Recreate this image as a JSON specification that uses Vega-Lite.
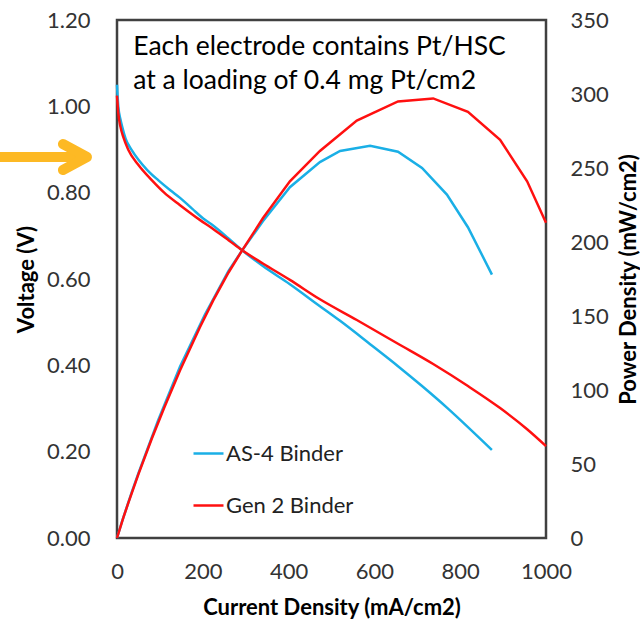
{
  "$schema": "https://vega.github.io/schema/vega-lite/v6.json",
  "width": 429,
  "height": 518,
  "autosize": {"type": "none"},
  "padding": {"left": 117, "top": 20, "right": 94, "bottom": 82},
  "background": "white",
  "config": {
    "view": {"stroke": "#404040", "strokeWidth": 2.5},
    "font": "Lato"
  },
  "datasets": {
    "volt": [
      {"current": 0, "voltage": 1.05, "series": "AS-4 Binder"},
      {"current": 3, "voltage": 1.0, "series": "AS-4 Binder"},
      {"current": 8, "voltage": 0.97, "series": "AS-4 Binder"},
      {"current": 12, "voltage": 0.953, "series": "AS-4 Binder"},
      {"current": 20, "voltage": 0.925, "series": "AS-4 Binder"},
      {"current": 34, "voltage": 0.899, "series": "AS-4 Binder"},
      {"current": 50, "voltage": 0.876, "series": "AS-4 Binder"},
      {"current": 70, "voltage": 0.853, "series": "AS-4 Binder"},
      {"current": 96, "voltage": 0.829, "series": "AS-4 Binder"},
      {"current": 125, "voltage": 0.805, "series": "AS-4 Binder"},
      {"current": 147, "voltage": 0.788, "series": "AS-4 Binder"},
      {"current": 175, "voltage": 0.763, "series": "AS-4 Binder"},
      {"current": 205, "voltage": 0.737, "series": "AS-4 Binder"},
      {"current": 224, "voltage": 0.724, "series": "AS-4 Binder"},
      {"current": 260, "voltage": 0.694, "series": "AS-4 Binder"},
      {"current": 291, "voltage": 0.667, "series": "AS-4 Binder"},
      {"current": 340, "voltage": 0.630, "series": "AS-4 Binder"},
      {"current": 403, "voltage": 0.588, "series": "AS-4 Binder"},
      {"current": 473, "voltage": 0.537, "series": "AS-4 Binder"},
      {"current": 520, "voltage": 0.503, "series": "AS-4 Binder"},
      {"current": 590, "voltage": 0.449, "series": "AS-4 Binder"},
      {"current": 655, "voltage": 0.398, "series": "AS-4 Binder"},
      {"current": 711, "voltage": 0.352, "series": "AS-4 Binder"},
      {"current": 769, "voltage": 0.302, "series": "AS-4 Binder"},
      {"current": 818, "voltage": 0.257, "series": "AS-4 Binder"},
      {"current": 874, "voltage": 0.204, "series": "AS-4 Binder"},
      {"current": 0, "voltage": 1.025, "series": "Gen 2 Binder"},
      {"current": 3, "voltage": 0.985, "series": "Gen 2 Binder"},
      {"current": 8, "voltage": 0.953, "series": "Gen 2 Binder"},
      {"current": 15, "voltage": 0.928, "series": "Gen 2 Binder"},
      {"current": 26, "voltage": 0.900, "series": "Gen 2 Binder"},
      {"current": 50, "voltage": 0.864, "series": "Gen 2 Binder"},
      {"current": 81, "voltage": 0.829, "series": "Gen 2 Binder"},
      {"current": 110, "voltage": 0.800, "series": "Gen 2 Binder"},
      {"current": 147, "voltage": 0.771, "series": "Gen 2 Binder"},
      {"current": 193, "voltage": 0.737, "series": "Gen 2 Binder"},
      {"current": 224, "voltage": 0.716, "series": "Gen 2 Binder"},
      {"current": 260, "voltage": 0.690, "series": "Gen 2 Binder"},
      {"current": 291, "voltage": 0.667, "series": "Gen 2 Binder"},
      {"current": 340, "voltage": 0.636, "series": "Gen 2 Binder"},
      {"current": 403, "voltage": 0.598, "series": "Gen 2 Binder"},
      {"current": 473, "voltage": 0.553, "series": "Gen 2 Binder"},
      {"current": 559, "voltage": 0.505, "series": "Gen 2 Binder"},
      {"current": 655, "voltage": 0.450, "series": "Gen 2 Binder"},
      {"current": 737, "voltage": 0.403, "series": "Gen 2 Binder"},
      {"current": 818, "voltage": 0.352, "series": "Gen 2 Binder"},
      {"current": 893, "voltage": 0.301, "series": "Gen 2 Binder"},
      {"current": 956, "voltage": 0.252, "series": "Gen 2 Binder"},
      {"current": 1000, "voltage": 0.213, "series": "Gen 2 Binder"}
    ],
    "power": [
      {"current": 0, "power": 0, "series": "AS-4 Binder"},
      {"current": 12, "power": 11.4, "series": "AS-4 Binder"},
      {"current": 34, "power": 30.6, "series": "AS-4 Binder"},
      {"current": 50, "power": 43.8, "series": "AS-4 Binder"},
      {"current": 96, "power": 79.6, "series": "AS-4 Binder"},
      {"current": 147, "power": 115.8, "series": "AS-4 Binder"},
      {"current": 205, "power": 151, "series": "AS-4 Binder"},
      {"current": 260, "power": 180.5, "series": "AS-4 Binder"},
      {"current": 291, "power": 194, "series": "AS-4 Binder"},
      {"current": 340, "power": 214, "series": "AS-4 Binder"},
      {"current": 403, "power": 237, "series": "AS-4 Binder"},
      {"current": 473, "power": 254, "series": "AS-4 Binder"},
      {"current": 520, "power": 261.5, "series": "AS-4 Binder"},
      {"current": 590, "power": 265, "series": "AS-4 Binder"},
      {"current": 655, "power": 261, "series": "AS-4 Binder"},
      {"current": 711, "power": 250, "series": "AS-4 Binder"},
      {"current": 769, "power": 232, "series": "AS-4 Binder"},
      {"current": 818, "power": 210, "series": "AS-4 Binder"},
      {"current": 874, "power": 178, "series": "AS-4 Binder"},
      {"current": 0, "power": 0, "series": "Gen 2 Binder"},
      {"current": 15, "power": 13.9, "series": "Gen 2 Binder"},
      {"current": 26, "power": 23.4, "series": "Gen 2 Binder"},
      {"current": 50, "power": 43.2, "series": "Gen 2 Binder"},
      {"current": 81, "power": 67.1, "series": "Gen 2 Binder"},
      {"current": 110, "power": 88, "series": "Gen 2 Binder"},
      {"current": 147, "power": 113.3, "series": "Gen 2 Binder"},
      {"current": 193, "power": 142.2, "series": "Gen 2 Binder"},
      {"current": 224, "power": 160.4, "series": "Gen 2 Binder"},
      {"current": 260, "power": 179.4, "series": "Gen 2 Binder"},
      {"current": 291, "power": 194, "series": "Gen 2 Binder"},
      {"current": 340, "power": 216, "series": "Gen 2 Binder"},
      {"current": 403, "power": 241, "series": "Gen 2 Binder"},
      {"current": 473, "power": 261.5, "series": "Gen 2 Binder"},
      {"current": 559, "power": 282, "series": "Gen 2 Binder"},
      {"current": 655, "power": 295, "series": "Gen 2 Binder"},
      {"current": 737, "power": 297, "series": "Gen 2 Binder"},
      {"current": 818, "power": 288, "series": "Gen 2 Binder"},
      {"current": 893, "power": 269, "series": "Gen 2 Binder"},
      {"current": 956, "power": 241, "series": "Gen 2 Binder"},
      {"current": 1000, "power": 213, "series": "Gen 2 Binder"}
    ],
    "note": [
      {"current": 38, "voltage": 1.119, "text": "Each electrode contains Pt/HSC"},
      {"current": 38, "voltage": 1.040, "text": "at a loading of 0.4 mg Pt/cm2"}
    ],
    "arrow": [
      {"current": -290, "voltage": 0.8826},
      {"current": -74, "voltage": 0.8826}
    ],
    "head": [
      {"current": -70, "voltage": 0.8826}
    ]
  },
  "layer": [
    {
      "layer": [
        {
          "data": {"name": "volt"},
          "mark": {"type": "line", "strokeWidth": 2.5, "interpolate": "monotone"},
          "encoding": {
            "x": {
              "field": "current", "type": "quantitative",
              "scale": {"domain": [0, 1000], "nice": false},
              "axis": {
                "values": [0, 200, 400, 600, 800, 1000], "format": "d",
                "domain": false, "ticks": false, "grid": false,
                "labelFlush": false, "labelFontSize": 22, "labelColor": "#333333",
                "labelPadding": 23, "labelFont": "Lato",
                "title": "Current Density (mA/cm2)", "titleFontSize": 22,
                "titleFont": "Lato", "titleFontWeight": "bold", "titleColor": "#000000",
                "titleBaseline": "alphabetic", "titleY": 76
              }
            },
            "y": {
              "field": "voltage", "type": "quantitative",
              "scale": {"domain": [0, 1.2], "nice": false},
              "axis": {
                "values": [0, 0.2, 0.4, 0.6, 0.8, 1.0, 1.2], "format": ".2f",
                "domain": false, "ticks": false, "grid": false,
                "labelFlush": false, "labelFontSize": 22, "labelColor": "#333333",
                "labelPadding": 27, "labelFont": "Lato",
                "title": "Voltage (V)", "titleFontSize": 22, "titleFont": "Lato",
                "titleFontWeight": "bold", "titleColor": "#000000",
                "titleAngle": -90, "titleBaseline": "alphabetic", "titleAlign": "center",
                "titleX": -84, "titleY": 259
              }
            },
            "color": {
              "field": "series", "type": "nominal",
              "scale": {"domain": ["AS-4 Binder", "Gen 2 Binder"], "range": ["#1AAFE6", "#FF1010"]},
              "legend": {
                "orient": "none", "legendX": 75, "legendY": 417, "title": null,
                "symbolType": "stroke", "symbolSize": 900, "symbolStrokeWidth": 2.5,
                "labelFontSize": 22, "labelFont": "Lato", "labelColor": "#222222",
                "labelOffset": 1, "rowPadding": 24, "padding": 0
              }
            }
          }
        },
        {
          "data": {"name": "note"},
          "mark": {"type": "text", "align": "left", "baseline": "alphabetic", "fontSize": 26.5, "font": "Lato", "color": "#000000"},
          "encoding": {
            "x": {"field": "current", "type": "quantitative"},
            "y": {"field": "voltage", "type": "quantitative"},
            "text": {"field": "text"}
          }
        },
        {
          "data": {"name": "arrow"},
          "mark": {"type": "line", "color": "#FDB924", "strokeWidth": 10, "strokeCap": "round", "clip": false},
          "encoding": {
            "x": {"field": "current", "type": "quantitative"},
            "y": {"field": "voltage", "type": "quantitative"}
          }
        },
        {
          "data": {"name": "head"},
          "mark": {"type": "point", "shape": "M -1.85 -1 L 0 0 L -1.85 1", "size": 676, "filled": false, "opacity": 1, "stroke": "#FDB924", "strokeWidth": 10, "strokeCap": "round", "strokeJoin": "round", "clip": false},
          "encoding": {
            "x": {"field": "current", "type": "quantitative"},
            "y": {"field": "voltage", "type": "quantitative"}
          }
        }
      ]
    },
    {
      "data": {"name": "power"},
      "mark": {"type": "line", "strokeWidth": 2.5},
      "encoding": {
        "x": {"field": "current", "type": "quantitative"},
        "y": {
          "field": "power", "type": "quantitative",
          "scale": {"domain": [0, 350], "nice": false},
          "axis": {
            "orient": "right",
            "values": [0, 50, 100, 150, 200, 250, 300, 350],
            "domain": false, "ticks": false, "grid": false,
            "labelFlush": false, "labelFontSize": 22, "labelColor": "#333333",
            "labelPadding": 24, "labelFont": "Lato",
            "title": "Power Density (mW/cm2)", "titleFontSize": 22, "titleFont": "Lato",
            "titleFontWeight": "bold", "titleColor": "#000000",
            "titleAngle": -90, "titleBaseline": "alphabetic", "titleAlign": "center",
            "titleX": 89, "titleY": 259
          }
        },
        "color": {"field": "series", "type": "nominal", "legend": null}
      }
    }
  ],
  "resolve": {"scale": {"y": "independent"}}
}
